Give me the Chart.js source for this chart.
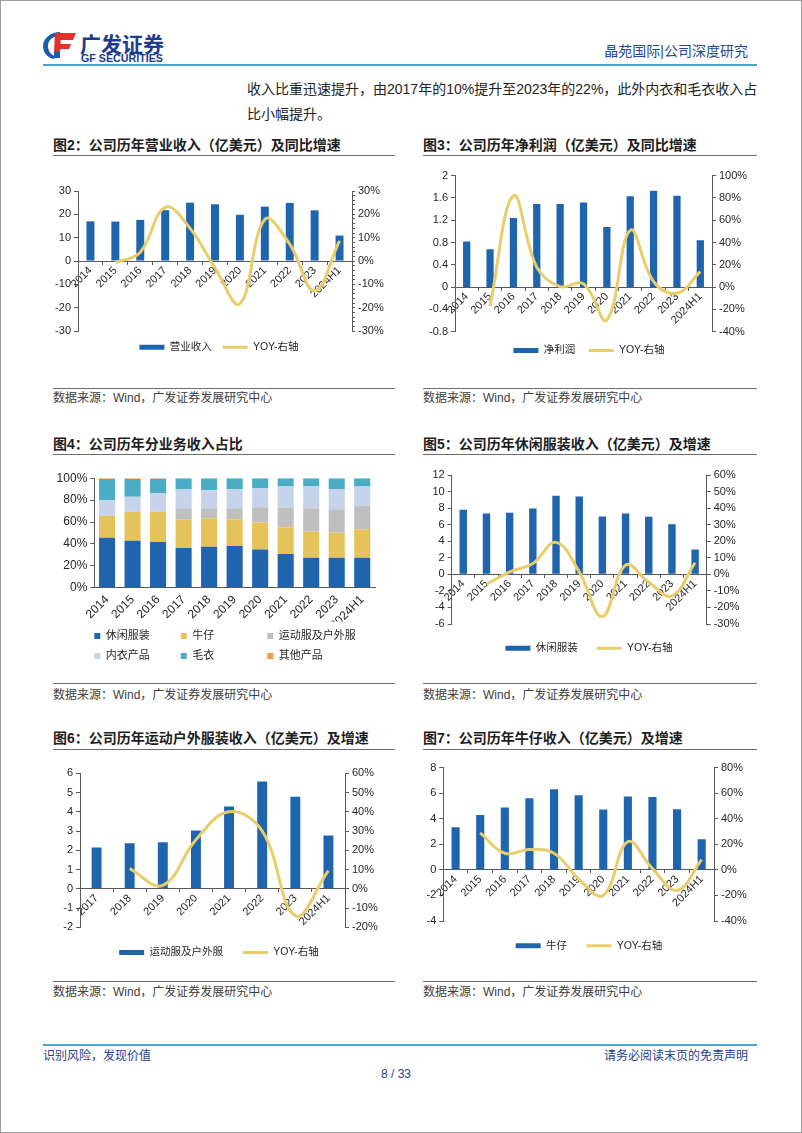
<!DOCTYPE html>
<html>
<head>
<meta charset="utf-8">
<script src="https://cdn.jsdelivr.net/npm/chart.js@4.4.1/dist/chart.umd.min.js"></script>
<style>
  html, body { margin: 0; padding: 0; background: #fff; }
  #page { position: relative; width: 802px; height: 1133px; overflow: hidden;
          font-family: "Liberation Sans", "Noto Sans CJK SC", sans-serif; }
  #frame { position: absolute; left: 0; top: 0; width: 802px; height: 1133px;
           box-sizing: border-box; border: 1px solid #9c9c9c; }
  .t { position: absolute; white-space: nowrap; line-height: 1; }
  .body { font-size: 14px; color: #222; }
  .title { font-size: 14px; font-weight: bold; color: #1e1e1e; }
  .src { font-size: 12px; color: #404040; }
  .rule { position: absolute; height: 0; border-top: 1px solid #6b6b6b; }
  .foot { font-size: 12px; color: #1f3d8a; }
  canvas { position: absolute; }
</style>
</head>
<body>
<div id="page">
  <div id="frame"></div>

  <!-- header -->
  <svg style="position:absolute;left:40px;top:28px" width="130" height="40" viewBox="0 0 130 40">
    <path d="M20 4 C10 4 3 11 3 18 C3 25 8 30 14 31 L15 28 C11 27 8 23 8 18 C8 12 13 8 20 8 Z" fill="#1b5cb3"/>
    <path d="M16 5 L36 5 L33 12 L15 12 Z" fill="#e4322b"/>
    <path d="M18 16 L31 16 L29 21 L17 21 Z" fill="#e4322b"/>
    <path d="M15 5 L21 5 L20 24 L14 24 Z" fill="#e4322b"/>
    <path d="M14 24 L20 24 L20 30 L14 30 Z" fill="#1b5cb3"/>
    <text x="40" y="24" font-family="Noto Sans CJK SC" font-weight="bold" font-size="21" fill="#1e3c8c">广发证券</text>
    <text x="41" y="34" font-family="Liberation Sans" font-weight="bold" font-size="10" fill="#1e3c8c" textLength="82" lengthAdjust="spacingAndGlyphs">GF SECURITIES</text>
  </svg>
  <div class="t" style="right:54px;top:44px;font-size:14px;color:#1f4a93">晶苑国际|公司深度研究</div>
  <div style="position:absolute;left:43px;top:64px;width:714px;height:2px;background:#4aa6cf"></div>

  <div class="t body" style="left:247px;top:82px">收入比重迅速提升，由2017年的10%提升至2023年的22%，此外内衣和毛衣收入占</div>
  <div class="t body" style="left:247px;top:107px">比小幅提升。</div>

  <!-- row 1 -->
  <div class="t title" style="left:53px;top:138px">图2：公司历年营业收入（亿美元）及同比增速</div>
  <div class="t title" style="left:423px;top:138px">图3：公司历年净利润（亿美元）及同比增速</div>
  <div class="rule" style="left:53px;top:155px;width:342px"></div>
  <div class="rule" style="left:423px;top:155px;width:334px"></div>
  <canvas id="c2"></canvas>
  <canvas id="c3"></canvas>
  <div class="rule" style="left:53px;top:388px;width:342px"></div>
  <div class="rule" style="left:423px;top:388px;width:334px"></div>
  <div class="t src" style="left:53px;top:392px">数据来源：Wind，广发证券发展研究中心</div>
  <div class="t src" style="left:423px;top:392px">数据来源：Wind，广发证券发展研究中心</div>

  <!-- row 2 -->
  <div class="t title" style="left:53px;top:437px">图4：公司历年分业务收入占比</div>
  <div class="t title" style="left:423px;top:437px">图5：公司历年休闲服装收入（亿美元）及增速</div>
  <div class="rule" style="left:53px;top:454px;width:342px"></div>
  <div class="rule" style="left:423px;top:454px;width:334px"></div>
  <canvas id="c4"></canvas>
  <canvas id="c5"></canvas>
  <div class="rule" style="left:53px;top:683px;width:342px"></div>
  <div class="rule" style="left:423px;top:683px;width:334px"></div>
  <div class="t src" style="left:53px;top:689px">数据来源：Wind，广发证券发展研究中心</div>
  <div class="t src" style="left:423px;top:689px">数据来源：Wind，广发证券发展研究中心</div>

  <!-- row 3 -->
  <div class="t title" style="left:53px;top:731px">图6：公司历年运动户外服装收入（亿美元）及增速</div>
  <div class="t title" style="left:423px;top:731px">图7：公司历年牛仔收入（亿美元）及增速</div>
  <div class="rule" style="left:53px;top:749px;width:342px"></div>
  <div class="rule" style="left:423px;top:749px;width:334px"></div>
  <canvas id="c6"></canvas>
  <canvas id="c7"></canvas>
  <div class="rule" style="left:53px;top:981px;width:342px"></div>
  <div class="rule" style="left:423px;top:981px;width:334px"></div>
  <div class="t src" style="left:53px;top:986px">数据来源：Wind，广发证券发展研究中心</div>
  <div class="t src" style="left:423px;top:986px">数据来源：Wind，广发证券发展研究中心</div>

  <!-- footer -->
  <div style="position:absolute;left:43px;top:1044px;width:714px;height:2px;background:#4aa6cf"></div>
  <div class="t foot" style="left:43px;top:1050px">识别风险，发现价值</div>
  <div class="t foot" style="right:54px;top:1050px">请务必阅读末页的免责声明</div>
  <div class="t foot" style="left:346px;width:100px;text-align:center;top:1068px">8 / 33</div>
</div>

<script>
// ---- data ----
const years = ['2014', '2015', '2016', '2017', '2018', '2019', '2020', '2021', '2022', '2023', '2024H1'];
const sportsYears = ['2017', '2018', '2019', '2020', '2021', '2022', '2023', '2024H1'];

const revenue    = [17.0, 16.9, 17.6, 21.8, 25.0, 24.3, 19.8, 23.3, 24.9, 21.7, 10.9];
const revenueYoy = [null, -0.7, 3.8, 23.0, 14.0, -3.0, -18.3, 17.8, 7.2, -12.8, 8.6];

const profit    = [0.82, 0.68, 1.24, 1.49, 1.49, 1.52, 1.08, 1.63, 1.73, 1.64, 0.84];
const profitYoy = [null, -17, 82, 18, 0.5, 3, -29.5, 51, 5, -5.5, 14];

// revenue mix, % (bottom to top)
const mixNames   = ['休闲服装', '牛仔', '运动服及户外服', '内衣产品', '毛衣', '其他产品'];
const mixCasual  = [45.7, 43.0, 41.8, 36.3, 37.5, 38.1, 35.0, 30.8, 27.4, 27.4, 27.4];
const mixDenim   = [19.8, 26.5, 27.7, 26.2, 25.9, 24.4, 24.5, 24.4, 23.8, 22.9, 26.0];
const mixSports  = [0, 0, 0, 9.5, 8.9, 10.1, 14.0, 18.0, 21.1, 21.3, 21.3];
const mixInner   = [14.7, 13.7, 16.8, 17.9, 17.0, 17.6, 17.4, 19.2, 20.1, 18.3, 17.7];
const mixSweater = [19.2, 16.2, 13.1, 10.1, 10.7, 9.8, 9.1, 7.6, 7.6, 10.1, 7.6];
const mixOther   = [0.6, 0.6, 0.6, 0, 0, 0, 0, 0, 0, 0, 0];

const casual    = [7.8, 7.35, 7.45, 7.95, 9.5, 9.4, 7.0, 7.35, 6.95, 6.05, 3.0];
const casualYoy = [null, -6, 1.5, 6.6, 19.3, 1.5, -25.5, 5.5, -4.8, -13, 7];

const sports    = [2.15, 2.37, 2.42, 3.03, 4.28, 5.58, 4.78, 2.77];
const sportsYoy = [null, 10.5, 1.8, 25.5, 40, 30, -14, 9.5];

const denim    = [3.34, 4.3, 4.88, 5.6, 6.31, 5.84, 4.72, 5.74, 5.71, 4.75, 2.4];
const denimYoy = [null, 29, 13, 16, 13, -7, -20, 22, 1, -16, 8];

// ---- styles ----
const BLUE = '#1f65ad', GOLD = '#e8cd6a', AXIS = '#595959', INK = '#262626';
Chart.defaults.font.family = '"Liberation Sans", "Noto Sans CJK SC", sans-serif';
Chart.defaults.color = INK;

const pct = v => v + '%';
const num1 = v => String(Math.round(v * 10) / 10);
const byIndex = (a, b) => a.datasetIndex - b.datasetIndex;

const yAxis = (pos, min, max, step, width, fmt, tick = 4) => ({
    position: pos, min: min, max: max,
    ticks: { stepSize: step, autoSkip: false, padding: 3, font: { size: 11 }, callback: fmt },
    grid: { drawOnChartArea: false, tickLength: tick, color: AXIS },
    border: { color: AXIS },
    afterFit: s => { s.width = width; }
});

// place a canvas so that the plot area lands on the given page box
function place(id, cl, cw, plotT, plotB, legendH) {
    const el = document.getElementById(id);
    const top = Math.round(plotT - 10);
    const h = Math.round(plotB - top + legendH);
    el.style.left = cl + 'px';
    el.style.top = top + 'px';
    el.width = cw;
    el.height = h;
    return { el: el, padTop: plotT - top, padBottom: Math.max(0, h - (plotB - top + legendH)) };
}

// bar + YOY line on two axes
function combo(id, g, cats, bars, yoy, barName, ax) {
    const lp = g.lp;
    const p = place(id, g.cl, 352, g.t, g.b, 10.5 + lp + 10);
    return new Chart(p.el, {
        type: 'bar',
        data: {
            labels: cats,
            datasets: [
                { type: 'bar', label: barName, data: bars, backgroundColor: BLUE, yAxisID: 'y', order: 2,
                  pointStyle: 'rect', barPercentage: g.bar, categoryPercentage: 1 },
                { type: 'line', label: 'YOY-右轴', data: yoy, borderColor: GOLD, backgroundColor: GOLD,
                  borderWidth: 3, pointRadius: 0, tension: 0.4, yAxisID: 'y1', order: 1, pointStyle: 'line' }
            ]
        },
        options: {
            responsive: false, animation: false, events: [],
            layout: { padding: { top: p.padTop, bottom: p.padBottom, left: 0, right: 0 } },
            plugins: {
                legend: { position: 'bottom', labels: { usePointStyle: true, pointStyleWidth: 25, boxHeight: 5,
                          padding: lp, font: { size: 10.5 }, sort: byIndex } },
                tooltip: { enabled: false }
            },
            scales: {
                x: { position: { y: 0 },
                     grid: { drawOnChartArea: false, tickLength: 3, color: AXIS, offset: true },
                     border: { color: AXIS },
                     ticks: { autoSkip: false, minRotation: 45, maxRotation: 45, padding: 0, font: { size: 11 } } },
                y: yAxis('left', ax.l[0], ax.l[1], ax.l[2], g.pl - g.cl, ax.lf || (v => v)),
                y1: yAxis('right', ax.r[0], ax.r[1], ax.r[2], g.cl + 352 - g.pr, ax.rf || pct, ax.rt || 4)
            }
        }
    });
}

// 图2 营业收入
combo('c2', { cl: 43, pl: 78, pr: 352, t: 191, b: 331, lp: 11, bar: 0.32 },
      years, revenue, revenueYoy, '营业收入',
      { l: [-30, 30, 10], r: [-30, 30, 2], rf: v => (v % 10 === 0 ? v + '%' : ''), rt: 3 });

// 图3 净利润
combo('c3', { cl: 413, pl: 455, pr: 712, t: 175.7, b: 331.7, lp: 13.5, bar: 0.31 },
      years, profit, profitYoy, '净利润',
      { l: [-0.8, 2, 0.4], lf: num1, r: [-40, 100, 20] });

// 图5 休闲服装
combo('c5', { cl: 413, pl: 451.7, pr: 706.7, t: 475, b: 624, lp: 19, bar: 0.32 },
      years, casual, casualYoy, '休闲服装',
      { l: [-6, 12, 2], r: [-30, 60, 10] });

// 图6 运动服及户外服
combo('c6', { cl: 43, pl: 80, pr: 345, t: 773.3, b: 927.3, lp: 20, bar: 0.3 },
      sportsYears, sports, sportsYoy, '运动服及户外服',
      { l: [-2, 6, 1], r: [-20, 60, 10] });

// 图7 牛仔
combo('c7', { cl: 413, pl: 443.3, pr: 714, t: 767.7, b: 921, lp: 19.5, bar: 0.33 },
      years, denim, denimYoy, '牛仔',
      { l: [-4, 8, 2], r: [-40, 80, 20] });

// 图4 分业务收入占比 (stacked)
(function () {
    const mixColors = ['#1f64ad', '#e6c35a', '#bfbfbf', '#c6d3ea', '#4bacc6', '#f59a4a'];
    const mixData = [mixCasual, mixDenim, mixSports, mixInner, mixSweater, mixOther];
    const p = place('c4', 43, 352, 478.3, 587.7, 33.8 + 50);
    // legend rows start under the y axis line, as in the source
    const legendLeft = { id: 'legendLeft', afterLayout: c => { c.legend.left = 42.3; } };
    new Chart(p.el, {
        type: 'bar',
        data: {
            labels: years,
            datasets: mixNames.map((n, i) => ({ label: n, data: mixData[i], backgroundColor: mixColors[i],
                                                 barPercentage: 0.63, categoryPercentage: 1 }))
        },
        options: {
            responsive: false, animation: false, events: [],
            layout: { padding: { top: p.padTop, bottom: p.padBottom, left: 0, right: 20 } },
            plugins: {
                legend: { position: 'bottom', align: 'start',
                          labels: { usePointStyle: true, pointStyle: 'rect', boxWidth: 6, boxHeight: 6, padding: 9,
                                    font: { size: 11 },
                                    generateLabels: c => Chart.defaults.plugins.legend.labels.generateLabels(c)
                                        .map(it => Object.assign(it, { text: it.text.padEnd(6, '\u3000') })) } },
                tooltip: { enabled: false }
            },
            scales: {
                x: { stacked: true,
                     grid: { drawOnChartArea: false, drawTicks: false, color: AXIS },
                     border: { color: AXIS },
                     ticks: { autoSkip: false, minRotation: 45, maxRotation: 45, padding: 5, font: { size: 12 } },
                     afterFit: s => { s.height = 33.8; } },
                y: { stacked: true, min: 0, max: 100,
                     ticks: { stepSize: 20, padding: 3, font: { size: 12 }, callback: pct },
                     grid: { drawOnChartArea: false, tickLength: 4, color: AXIS },
                     border: { color: AXIS },
                     afterFit: s => { s.width = 51.3; } }
            }
        },
        plugins: [legendLeft]
    });
})();
</script>
</body>
</html>
